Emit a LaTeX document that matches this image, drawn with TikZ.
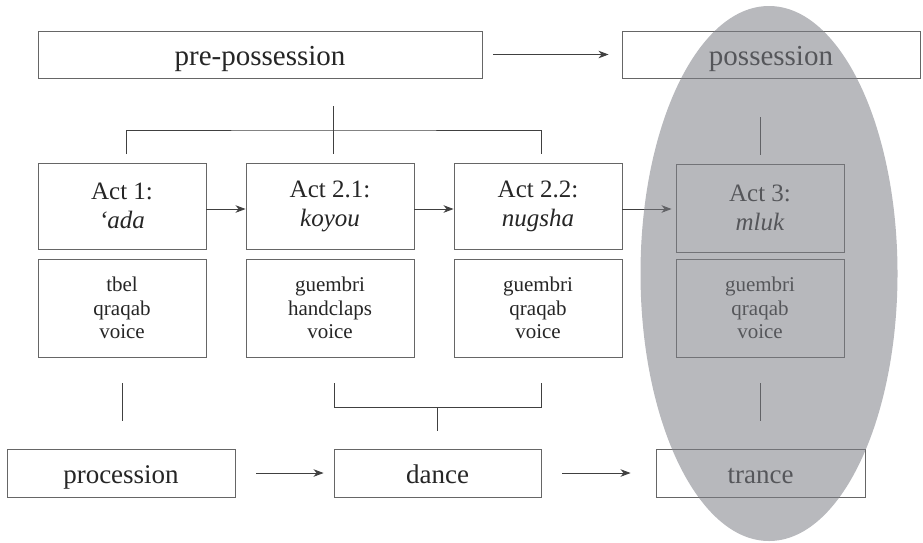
\documentclass[tikz,border=0pt]{standalone}
\usepackage{fontspec}
\setmainfont{Liberation Serif}
\usetikzlibrary{arrows.meta}
\definecolor{ellgray}{RGB}{125,127,134}
\begin{document}
\begin{tikzpicture}[x=1pt,y=-1pt,
  box/.style={draw=black!60,line width=0.9pt,fill=white,inner sep=0pt,align=center,text=black!85,anchor=center},
  topbox/.style={box,minimum height=47pt,text height=22pt,text depth=0pt,font=\fontsize{29}{34}\selectfont},
  actbox/.style={box,minimum width=168pt,minimum height=86pt,font=\fontsize{25}{29}\selectfont},
  instbox/.style={box,minimum width=168pt,minimum height=98pt,font=\fontsize{21}{23.5}\selectfont},
  botbox/.style={box,minimum height=48pt,text height=20pt,text depth=0pt,font=\fontsize{27}{32}\selectfont},
  conn/.style={draw=black!75,line width=0.9pt},
  arr/.style={conn,-{Stealth[length=10pt,width=7.5pt,inset=3pt]}}]
\useasboundingbox (0,0) rectangle (923,542);
% top row
\node[topbox,minimum width=444pt] (pre) at (260,54.5) {pre-possession};
\node[topbox,minimum width=298pt] (poss) at (771,54.5) {possession};
% acts
\node[actbox] (a1) at (122,206) {Act 1:\\\textit{‘ada}};
\node[actbox] (a21) at (330,206) {Act 2.1:\\\textit{koyou}};
\node[actbox] (a22) at (538,206) {Act 2.2:\\\textit{nugsha}};
\node[actbox,minimum height=88pt] (a3) at (760,208) {Act 3:\\\textit{mluk}};
% instruments
\node[instbox] (i1) at (122,308) {tbel\\qraqab\\voice};
\node[instbox] (i21) at (330,308) {guembri\\handclaps\\voice};
\node[instbox] (i22) at (538,308) {guembri\\qraqab\\voice};
\node[instbox] (i3) at (760,308) {guembri\\qraqab\\voice};
% bottom row
\node[botbox,minimum width=228pt] (proc) at (121,473) {procession};
\node[botbox,minimum width=207pt] (dance) at (437.5,473) {dance};
\node[botbox,minimum width=209pt] (trance) at (760.5,473) {trance};
% arrows
\draw[arr,shorten <=11pt,shorten >=13pt] (pre.east) -- (poss.west);
\draw[arr] ([yshift=-3pt]a1.east) -- ([yshift=-3pt]a21.west);
\draw[arr] ([yshift=-3pt]a21.east) -- ([yshift=-3pt]a22.west);
\draw[arr,shorten >=4pt] ([yshift=-3pt]a22.east) -- ([yshift=-3pt]a22.east -| a3.west);
\draw[arr,shorten <=21pt,shorten >=10pt] (proc.east) -- (dance.west);
\draw[arr,shorten <=21pt,shorten >=25pt] (dance.east) -- (trance.west);
% upper bracket
\coordinate (tl) at (126,154);
\coordinate (tr) at (541,154);
\coordinate (tm) at (333.5,130);
\coordinate (tmtop) at (333.5,106);
\coordinate (tmbot) at (333.5,154);
\draw[conn] (tl) |- (tm) -| (tr);
\draw[conn] (tmtop) -- (tmbot);
% lower bracket
\coordinate (bl) at (334,383);
\coordinate (br) at (541,383);
\coordinate (bm) at (437.5,407);
\coordinate (bmb) at (437.5,431);
\draw[conn] (bl) |- (bm) -| (br);
\draw[conn] (bm) -- (bmb);
% single stems
\coordinate (s1a) at (122,383);
\coordinate (s1b) at (122,421);
\draw[conn] (s1a) -- (s1b);
\coordinate (s3a) at (760,117);
\coordinate (s3b) at (760,155);
\draw[conn] (s3a) -- (s3b);
\coordinate (s3c) at (760,383);
\coordinate (s3d) at (760,421);
\draw[conn] (s3c) -- (s3d);
% shaded ellipse
\fill[ellgray,fill opacity=0.55] (769,273.5) ellipse [x radius=128.5, y radius=267.5];
\end{tikzpicture}
\end{document}
